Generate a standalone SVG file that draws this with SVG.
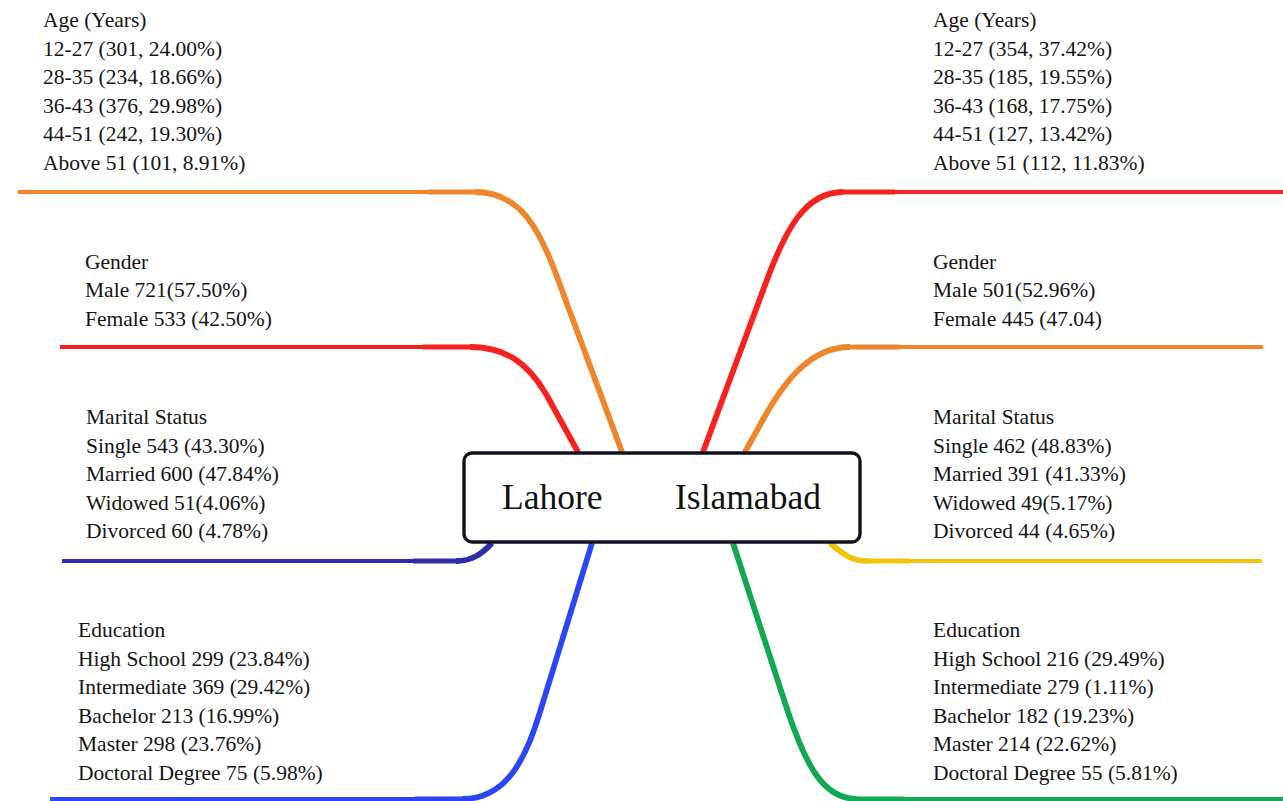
<svg xmlns="http://www.w3.org/2000/svg" width="1283" height="801" viewBox="0 0 1283 801">
  <style>
    .lbl { font-family: "Liberation Serif", "Times New Roman", serif; font-size: 21.5px; fill: #141414; }
    .city { font-family: "Liberation Serif", "Times New Roman", serif; font-size: 35.5px; fill: #111111; }
    .thin { fill: none; stroke-width: 4; stroke-linecap: butt; }
    .mid { fill: none; stroke-width: 4.8; stroke-linecap: butt; }
    .thick { fill: none; stroke-width: 5.8; stroke-linecap: butt; stroke-linejoin: round; }
    .orange { stroke: #F0862C; }
    .red { stroke: #F52220; }
    .navy { stroke: #2E2CA8; }
    .blue { stroke: #2B47F5; }
    .yellow { stroke: #F0C40A; }
    .green { stroke: #12A852; }
  </style>

  <!-- branches: thin outer run, a short transition piece, then the thicker curve near the centre -->
  <g id="connectors">
    <!-- Lahore side -->
    <path class="thin orange" d="M18,192 H430"/>
    <path class="mid orange" d="M428,192 H478"/>
    <path class="thick orange" d="M475,192 C520,192 540,228 560,285 L622,452"/>
    <path class="thin red" d="M60,347 H425"/>
    <path class="mid red" d="M423,347 H474"/>
    <path class="thick red" d="M470,347 C505,347 527,362 546,394 L578,452"/>
    <path class="thin navy" d="M62,561 H415"/>
    <path class="mid navy" d="M413,561 H459"/>
    <path class="thick navy" d="M456,561 C471,561 481,555 492,543"/>
    <path class="thick blue" d="M592,543 L540,712 C525,762 505,799 462,799"/>
    <path class="mid blue" d="M465,799 H415"/>
    <path class="thin blue" d="M417,799 H50"/>
    <!-- Islamabad side -->
    <path class="thick red" d="M703,452 L765,285 C785,230 805,192 843,192"/>
    <path class="mid red" d="M840,192 H895"/>
    <path class="thin red" d="M893,192 H1283"/>
    <path class="thick orange" d="M745,452 L760,425 C783,382 810,347 850,347"/>
    <path class="mid orange" d="M847,347 H900"/>
    <path class="thin orange" d="M898,347 H1263"/>
    <path class="thick yellow" d="M830,543 C842,553 850,561 868,561"/>
    <path class="mid yellow" d="M865,561 H910"/>
    <path class="thin yellow" d="M908,561 H1262"/>
    <path class="thick green" d="M733,543 L788,712 C805,762 822,799 857,799"/>
    <path class="mid green" d="M854,799 H905"/>
    <path class="thin green" d="M903,799 H1283"/>
  </g>

  <!-- central node -->
  <g id="center">
    <rect x="464" y="453" width="396" height="89" rx="8" ry="8" fill="#ffffff" stroke="#10101f" stroke-width="3.4"/>
    <text class="city" x="502" y="509">Lahore</text>
    <text class="city" x="675" y="509">Islamabad</text>
  </g>

  <g id="lahore-age" class="lbl">
    <text x="43" y="27">Age (Years)</text>
    <text x="43" y="56">12-27 (301, 24.00%)</text>
    <text x="43" y="84">28-35 (234, 18.66%)</text>
    <text x="43" y="113">36-43 (376, 29.98%)</text>
    <text x="43" y="141">44-51 (242, 19.30%)</text>
    <text x="43" y="170">Above 51 (101, 8.91%)</text>
  </g>

  <g id="lahore-gender" class="lbl">
    <text x="85" y="269">Gender</text>
    <text x="85" y="297">Male 721(57.50%)</text>
    <text x="85" y="326">Female 533 (42.50%)</text>
  </g>

  <g id="lahore-marital" class="lbl">
    <text x="86" y="424">Marital Status</text>
    <text x="86" y="453">Single 543 (43.30%)</text>
    <text x="86" y="481">Married 600 (47.84%)</text>
    <text x="86" y="510">Widowed 51(4.06%)</text>
    <text x="86" y="538">Divorced 60 (4.78%)</text>
  </g>

  <g id="lahore-education" class="lbl">
    <text x="78" y="637">Education</text>
    <text x="78" y="666">High School 299 (23.84%)</text>
    <text x="78" y="694">Intermediate 369 (29.42%)</text>
    <text x="78" y="723">Bachelor 213 (16.99%)</text>
    <text x="78" y="751">Master 298 (23.76%)</text>
    <text x="78" y="780">Doctoral Degree 75 (5.98%)</text>
  </g>

  <g id="islamabad-age" class="lbl">
    <text x="933" y="27">Age (Years)</text>
    <text x="933" y="56">12-27 (354, 37.42%)</text>
    <text x="933" y="84">28-35 (185, 19.55%)</text>
    <text x="933" y="113">36-43 (168, 17.75%)</text>
    <text x="933" y="141">44-51 (127, 13.42%)</text>
    <text x="933" y="170">Above 51 (112, 11.83%)</text>
  </g>

  <g id="islamabad-gender" class="lbl">
    <text x="933" y="269">Gender</text>
    <text x="933" y="297">Male 501(52.96%)</text>
    <text x="933" y="326">Female 445 (47.04)</text>
  </g>

  <g id="islamabad-marital" class="lbl">
    <text x="933" y="424">Marital Status</text>
    <text x="933" y="453">Single 462 (48.83%)</text>
    <text x="933" y="481">Married 391 (41.33%)</text>
    <text x="933" y="510">Widowed 49(5.17%)</text>
    <text x="933" y="538">Divorced 44 (4.65%)</text>
  </g>

  <g id="islamabad-education" class="lbl">
    <text x="933" y="637">Education</text>
    <text x="933" y="666">High School 216 (29.49%)</text>
    <text x="933" y="694">Intermediate 279 (1.11%)</text>
    <text x="933" y="723">Bachelor 182 (19.23%)</text>
    <text x="933" y="751">Master 214 (22.62%)</text>
    <text x="933" y="780">Doctoral Degree 55 (5.81%)</text>
  </g>
</svg>
